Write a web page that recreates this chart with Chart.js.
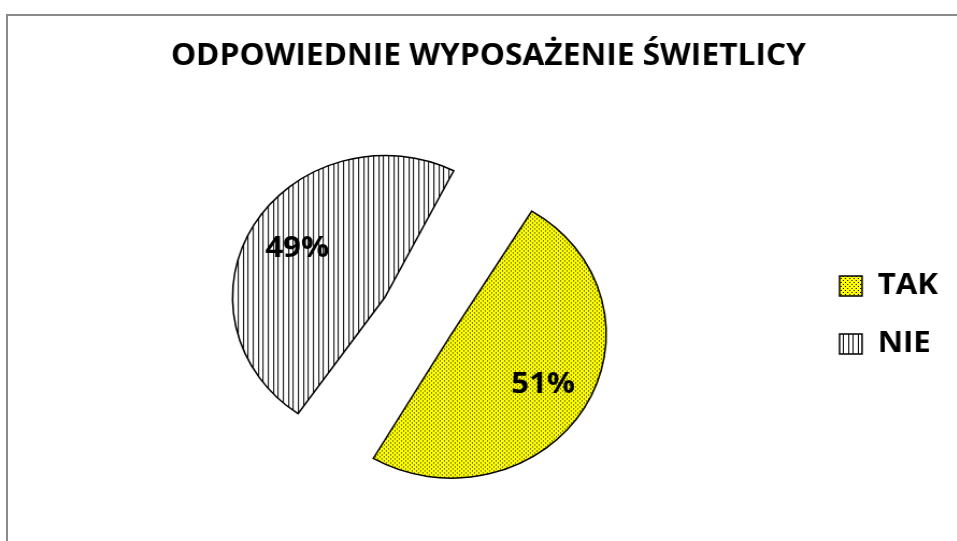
<!DOCTYPE html>
<html>
<head>
<meta charset="utf-8">
<script src="https://cdn.jsdelivr.net/npm/chart.js@4/dist/chart.umd.min.js"></script>
<style>
html, body { margin: 0; padding: 0; background: #fff; overflow: hidden; }
#frame { position: absolute; left: 6px; top: 14px; width: 1000px; height: 600px; border: 2px solid #8a8a8a; box-sizing: border-box; }
/* the reference is stretched a little sideways, so the canvas is too */
#wrap { position: absolute; left: 0; top: 0; width: 890px; height: 541px; transform: scaleX(1.075); transform-origin: 0 0; }
</style>
</head>
<body>
<div id="frame"></div>
<div id="wrap"><canvas id="myChart" width="890" height="541"></canvas></div>
<script>
var title = 'ODPOWIEDNIE WYPOSAŻENIE ŚWIETLICY';
var labels = ['TAK', 'NIE'];
var values = [51, 49];

var ctx = document.getElementById('myChart').getContext('2d');

// yellow with small black dots
function dotPattern() {
    var c = document.createElement('canvas');
    c.width = 4; c.height = 4;
    var g = c.getContext('2d');
    g.fillStyle = '#ffff00';
    g.fillRect(0, 0, 4, 4);
    g.fillStyle = '#000';
    g.fillRect(0, 0, 1, 1);
    g.fillRect(2, 2, 1, 1);
    return ctx.createPattern(c, 'repeat');
}

// white with thin vertical black lines
function stripePattern() {
    var c = document.createElement('canvas');
    c.width = 14; c.height = 4;
    var g = c.getContext('2d');
    g.fillStyle = '#fff';
    g.fillRect(0, 0, 14, 4);
    g.fillStyle = '#000';
    g.fillRect(0, 0, 1, 4);
    g.fillRect(5, 0, 1, 4);
    g.fillRect(9, 0, 1, 4);
    return ctx.createPattern(c, 'repeat');
}

// percent labels inside the slices
var labelDepth = [0.69, 0.66];
var sliceLabels = {
    id: 'sliceLabels',
    afterDatasetsDraw: function(chart) {
        var c = chart.ctx;
        chart.getDatasetMeta(0).data.forEach(function(arc, i) {
            var mid = (arc.startAngle + arc.endAngle) / 2;
            var shift = arc.options.offset / 4;
            var d = shift + labelDepth[i] * (arc.outerRadius + shift);
            c.save();
            c.font = 'bold 29px "Open Sans"';
            c.fillStyle = '#000';
            c.textAlign = 'center';
            c.textBaseline = 'middle';
            c.fillText(values[i] + '%', arc.x + Math.cos(mid) * d, arc.y + Math.sin(mid) * d);
            c.restore();
        });
    }
};

var chart = new Chart(ctx, {
    type: 'pie',
    data: {
        labels: labels,
        datasets: [{
            data: values,
            backgroundColor: [dotPattern(), stripePattern()],
            borderColor: '#000',
            borderWidth: 1.5,
            borderJoinStyle: 'miter',
            offset: 144,
            hoverOffset: 144
        }]
    },
    options: {
        responsive: false,
        animation: false,
        radius: 108,
        rotation: 29,
        layout: { padding: { left: 26, right: 7.5, top: 0, bottom: 0 } },
        plugins: {
            title: {
                display: true,
                text: title,
                color: '#000',
                font: { family: 'Open Sans', size: 29.5, weight: 'bold' },
                padding: { top: 39, bottom: 16 }
            },
            legend: {
                position: 'right',
                // empty legend title only pushes the items down a little
                title: { display: true, text: ' ', font: { size: 10 }, padding: { top: 77, bottom: 0 } },
                labels: {
                    color: '#000',
                    font: { family: 'Open Sans', size: 29, weight: 'bold' },
                    boxWidth: 21,
                    boxHeight: 20,
                    padding: 29
                }
            },
            tooltip: { enabled: false }
        }
    },
    plugins: [sliceLabels]
});
</script>
</body>
</html>
